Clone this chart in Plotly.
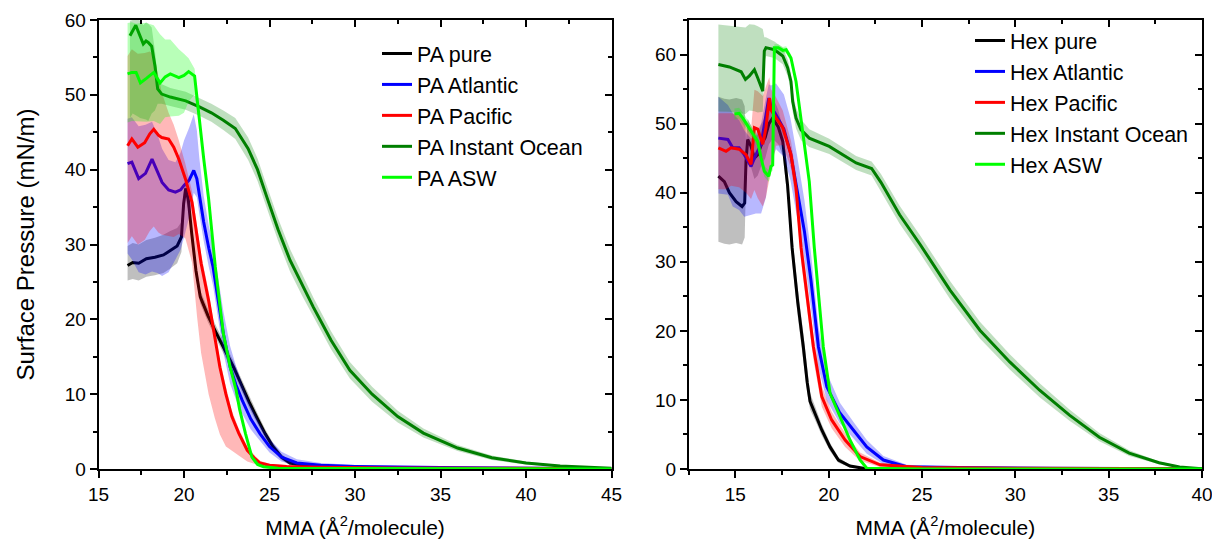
import plotly.graph_objects as go

FONT = "Liberation Sans, Arial, sans-serif"

# ================= Left panel: PA =================
pa_pure_x = [16.7, 17.0, 17.35, 17.8, 18.3, 18.8, 19.2, 19.6, 19.85, 19.98, 20.1, 20.25, 20.45, 20.7, 20.95, 21.4, 21.9, 22.4, 22.9, 23.35, 23.8, 24.3, 24.75, 25.2, 25.7, 26.2, 27.0, 29.0, 32.0, 36.0, 40.0, 45.0]
pa_pure_y = [27.2, 27.6, 27.5, 28.1, 28.3, 28.6, 29.2, 29.8, 31.0, 35.5, 37.5, 36.0, 31.5, 26.5, 23.0, 20.5, 18.1, 15.9, 13.6, 11.3, 9.0, 6.7, 4.7, 3.0, 1.6, 0.8, 0.5, 0.3, 0.15, 0.08, 0.05, 0.02]
pa_pure_elo = [2.0, 2.2, 2.3, 2.4, 2.4, 2.4, 2.4, 2.3, 2.0, 1.5, 1.5, 1.3, 1.2, 1.0, 0.9, 0.9, 0.9, 0.9, 0.8, 0.8, 0.8, 0.7, 0.6, 0.5, 0.4, 0.3, 0.2, 0.1, 0.05, 0.03, 0.02, 0.01]
pa_pure_ehi = [2.6, 2.6, 2.5, 2.5, 2.6, 2.7, 2.6, 2.4, 2.0, 1.5, 1.5, 1.3, 1.2, 1.0, 0.9, 0.9, 0.9, 0.9, 0.8, 0.8, 0.8, 0.7, 0.6, 0.5, 0.4, 0.3, 0.2, 0.1, 0.05, 0.03, 0.02, 0.01]

pa_atl_x = [16.7, 16.95, 17.35, 17.75, 18.13, 18.45, 18.72, 19.1, 19.5, 19.8, 20.0, 20.3, 20.57, 20.75, 20.9, 21.15, 21.45, 21.7, 22.0, 22.3, 22.7, 23.05, 23.4, 23.9, 24.45, 25.0, 25.7, 26.6, 28.0, 30.0, 35.0, 40.0, 45.0]
pa_atl_y = [40.8, 41.0, 38.8, 39.5, 41.4, 39.7, 38.3, 37.3, 37.0, 37.3, 37.9, 38.6, 39.9, 38.8, 36.5, 33.0, 29.5, 27.0, 22.5, 18.1, 13.6, 11.2, 9.2, 6.7, 4.7, 3.0, 1.6, 0.8, 0.5, 0.35, 0.2, 0.12, 0.05]
pa_atl_elo = [12.0, 13.0, 12.5, 13.5, 15.0, 13.5, 12.5, 11.0, 9.0, 8.0, 7.0, 5.0, 3.0, 2.5, 2.5, 2.5, 2.5, 2.5, 2.5, 2.5, 2.2, 2.0, 1.8, 1.4, 1.0, 0.8, 0.6, 0.4, 0.3, 0.2, 0.1, 0.06, 0.03]
pa_atl_ehi = [6.0, 6.0, 7.0, 6.5, 5.0, 5.0, 4.5, 4.0, 4.0, 5.0, 6.0, 7.0, 7.5, 6.5, 5.0, 3.5, 3.0, 3.0, 3.0, 3.0, 2.8, 2.5, 2.2, 1.8, 1.3, 1.0, 0.7, 0.5, 0.3, 0.2, 0.1, 0.06, 0.03]

pa_pac_x = [16.7, 16.95, 17.3, 17.7, 18.0, 18.23, 18.5, 18.7, 19.1, 19.4, 19.7, 20.08, 20.47, 20.76, 21.0, 21.44, 21.8, 22.1, 22.45, 22.8, 23.2, 23.7, 24.1, 24.45, 25.0, 26.0, 28.0, 32.0, 38.0, 45.0]
pa_pac_y = [43.2, 44.1, 43.0, 43.6, 44.8, 45.4, 44.6, 44.3, 44.1, 43.0, 41.4, 38.8, 35.6, 31.4, 27.5, 22.5, 17.8, 13.6, 10.0, 7.0, 4.8, 2.5, 1.5, 0.8, 0.5, 0.35, 0.25, 0.15, 0.1, 0.05]
pa_pac_elo = [13.0, 13.0, 13.0, 13.0, 13.0, 13.0, 13.0, 13.0, 13.0, 12.0, 10.0, 8.0, 8.0, 11.0, 12.0, 12.5, 11.0, 9.0, 7.0, 4.5, 3.0, 1.5, 0.8, 0.4, 0.3, 0.2, 0.15, 0.1, 0.05, 0.03]
pa_pac_ehi = [12.0, 12.0, 12.5, 12.0, 11.0, 10.0, 8.0, 6.0, 3.5, 3.0, 2.5, 2.0, 1.5, 1.2, 1.2, 1.2, 1.2, 1.0, 1.0, 0.8, 0.6, 0.5, 0.4, 0.3, 0.2, 0.15, 0.1, 0.1, 0.05, 0.03]

pa_io_x = [16.84, 17.0, 17.18, 17.3, 17.43, 17.62, 17.78, 17.91, 18.11, 18.3, 18.46, 18.7, 19.2, 20.1, 20.9, 21.6, 22.3, 23.0, 23.75, 24.3, 24.85, 25.5, 26.2, 26.9, 27.57, 28.6, 29.7, 31.0, 32.5, 34.0, 36.0, 38.0, 40.0, 42.0, 45.0]
pa_io_y = [57.9, 58.5, 59.3, 58.6, 57.9, 56.8, 57.2, 57.0, 56.5, 53.9, 50.8, 50.1, 49.7, 49.2, 48.4, 47.6, 46.6, 45.5, 42.8, 40.0, 36.3, 32.0, 27.9, 24.6, 21.6, 17.2, 13.2, 10.0, 7.0, 4.8, 2.8, 1.5, 0.8, 0.4, 0.1]
pa_io_elo = [11.0, 11.0, 12.0, 11.5, 11.0, 10.0, 10.5, 10.5, 9.0, 6.0, 2.0, 1.3, 1.2, 1.2, 1.2, 1.2, 1.3, 1.4, 1.5, 1.5, 1.5, 1.5, 1.5, 1.4, 1.3, 1.2, 1.1, 1.0, 0.8, 0.6, 0.4, 0.3, 0.2, 0.1, 0.05]
pa_io_ehi = [2.0, 1.5, 1.0, 1.5, 2.0, 2.5, 2.5, 2.5, 2.5, 2.0, 1.5, 1.3, 1.2, 1.2, 1.2, 1.2, 1.3, 1.4, 1.5, 1.5, 1.5, 1.5, 1.5, 1.4, 1.3, 1.2, 1.1, 1.0, 0.8, 0.6, 0.4, 0.3, 0.2, 0.1, 0.05]

pa_asw_x = [16.7, 16.95, 17.2, 17.45, 17.8, 18.23, 18.6, 18.9, 19.2, 19.7, 20.0, 20.27, 20.62, 20.86, 21.15, 21.44, 21.83, 22.3, 22.7, 23.05, 23.25, 23.6, 23.97, 24.3, 24.65, 25.5, 30.0, 35.0, 40.0, 45.0]
pa_asw_y = [52.8, 53.0, 53.0, 51.6, 52.2, 53.0, 51.6, 52.4, 52.8, 52.3, 52.6, 53.1, 52.5, 47.2, 41.5, 36.1, 27.0, 18.1, 13.6, 10.5, 8.0, 4.7, 1.6, 0.6, 0.3, 0.1, 0.05, 0.03, 0.02, 0.01]
pa_asw_elo = [6.5, 6.5, 6.5, 5.2, 5.8, 6.5, 5.5, 5.4, 5.7, 5.1, 5.0, 4.0, 2.5, 0.8, 0.8, 0.8, 0.8, 0.7, 0.6, 0.5, 0.5, 0.4, 0.3, 0.2, 0.1, 0.05, 0.03, 0.02, 0.02, 0.01]
pa_asw_ehi = [6.8, 6.7, 6.5, 8.0, 7.4, 6.3, 6.5, 5.0, 4.6, 3.8, 2.9, 1.8, 1.0, 0.8, 0.8, 0.8, 0.8, 0.7, 0.6, 0.5, 0.5, 0.4, 0.3, 0.2, 0.1, 0.05, 0.03, 0.02, 0.02, 0.01]

# ================= Right panel: Hex =================
hx_pure_x = [14.09, 14.41, 14.68, 15.04, 15.36, 15.5, 15.57, 15.66, 15.84, 16.02, 16.2, 16.4, 16.6, 16.8, 17.0, 17.3, 17.54, 17.8, 18.04, 18.34, 18.64, 18.85, 19.0, 19.27, 19.63, 20.07, 20.52, 21.14, 21.86, 23.0, 26.0, 30.0, 35.0, 40.0]
hx_pure_y = [42.4, 41.6, 40.0, 38.7, 38.0, 38.5, 44.5, 47.7, 46.7, 45.0, 45.5, 47.0, 48.0, 50.0, 50.8, 49.5, 47.4, 41.0, 32.0, 24.2, 17.7, 12.5, 9.8, 8.1, 5.65, 3.2, 1.3, 0.43, 0.1, 0.02, 0.0, 0.0, 0.0, 0.0]
hx_pure_elo = [9.5, 9.0, 7.5, 6.0, 5.5, 5.0, 3.0, 3.0, 3.0, 3.0, 3.0, 3.0, 3.0, 3.0, 3.0, 2.5, 2.0, 2.0, 2.0, 2.0, 2.0, 1.5, 1.2, 1.0, 0.8, 0.6, 0.4, 0.2, 0.1, 0.02, 0.0, 0.0, 0.0, 0.0]
hx_pure_ehi = [11.5, 12.0, 13.5, 15.0, 15.5, 14.0, 3.0, 3.0, 3.0, 3.0, 3.0, 3.0, 3.0, 3.0, 3.0, 2.5, 2.0, 2.0, 2.0, 2.0, 2.0, 1.5, 1.2, 1.0, 0.8, 0.6, 0.4, 0.2, 0.1, 0.02, 0.0, 0.0, 0.0, 0.0]

hx_atl_x = [14.09, 14.6, 14.86, 15.2, 15.48, 15.84, 16.1, 16.38, 16.64, 16.79, 16.9, 17.18, 17.6, 17.95, 18.3, 18.7, 19.05, 19.45, 19.9, 20.6, 21.32, 22.04, 22.93, 24.18, 27.0, 32.0, 40.0]
hx_atl_y = [47.9, 47.7, 46.5, 46.5, 45.5, 43.8, 45.5, 47.0, 51.3, 53.7, 52.5, 51.3, 49.2, 45.8, 40.5, 34.4, 27.3, 17.7, 11.9, 8.1, 5.65, 3.2, 1.3, 0.33, 0.2, 0.1, 0.05]
hx_atl_elo = [8.0, 8.0, 8.5, 9.0, 9.0, 7.0, 8.5, 10.0, 12.0, 11.0, 8.0, 5.0, 4.0, 4.0, 4.0, 4.0, 4.0, 3.0, 2.0, 1.5, 1.2, 1.0, 0.6, 0.2, 0.1, 0.05, 0.03]
hx_atl_ehi = [6.0, 5.0, 5.0, 4.0, 3.5, 4.0, 3.0, 3.0, 2.5, 2.0, 3.0, 4.5, 5.0, 5.0, 5.0, 4.5, 4.0, 3.0, 2.0, 1.5, 1.2, 1.0, 0.6, 0.3, 0.1, 0.05, 0.03]

hx_pac_x = [14.09, 14.5, 14.77, 15.2, 15.57, 15.84, 16.02, 16.2, 16.47, 16.64, 16.82, 16.9, 17.18, 17.54, 17.98, 18.25, 18.52, 18.8, 19.18, 19.63, 20.16, 20.88, 21.68, 22.75, 25.0, 30.0, 40.0]
hx_pac_y = [46.5, 46.0, 46.5, 46.3, 45.5, 44.1, 49.4, 49.2, 47.0, 49.4, 53.7, 52.0, 50.8, 49.4, 45.5, 40.7, 32.0, 26.0, 17.7, 10.5, 7.1, 4.2, 1.8, 0.6, 0.2, 0.1, 0.05]
hx_pac_elo = [6.0, 5.5, 5.5, 5.5, 5.5, 5.0, 9.0, 10.0, 9.0, 10.0, 12.0, 9.0, 4.0, 2.5, 2.0, 2.0, 2.0, 2.0, 1.8, 1.5, 1.2, 1.0, 0.6, 0.3, 0.1, 0.05, 0.03]
hx_pac_ehi = [5.0, 5.5, 5.0, 5.0, 5.0, 5.0, 5.5, 5.5, 7.0, 6.0, 3.0, 3.0, 3.0, 2.5, 2.0, 2.0, 2.0, 2.0, 1.8, 1.5, 1.2, 1.0, 0.6, 0.3, 0.1, 0.05, 0.03]

hx_io_x = [14.09, 14.68, 15.31, 15.54, 15.75, 16.02, 16.2, 16.47, 16.55, 16.64, 17.09, 17.54, 17.8, 17.98, 18.07, 18.25, 18.52, 18.96, 20.03, 21.47, 22.3, 22.8, 23.8, 24.9, 26.5, 28.1, 29.7, 31.3, 32.9, 34.5, 36.1, 37.7, 38.8, 40.0]
hx_io_y = [58.55, 58.2, 57.5, 56.4, 56.9, 57.8, 56.6, 54.7, 60.5, 61.0, 60.7, 59.8, 58.1, 56.1, 53.2, 50.8, 49.1, 47.9, 46.7, 44.3, 43.5, 41.5, 36.8, 32.5, 25.9, 20.1, 15.5, 11.4, 7.8, 4.6, 2.3, 0.9, 0.3, 0.05]
hx_io_elo = [6.8, 6.5, 6.0, 5.0, 5.0, 6.0, 5.0, 3.0, 1.5, 1.2, 1.2, 1.2, 1.2, 1.2, 1.5, 1.5, 1.5, 1.3, 1.1, 1.0, 1.0, 1.2, 1.3, 1.3, 1.3, 1.2, 1.1, 1.0, 0.8, 0.6, 0.4, 0.2, 0.1, 0.02]
hx_io_ehi = [5.8, 6.0, 6.5, 7.5, 7.5, 6.5, 7.5, 9.0, 2.0, 1.5, 1.2, 1.2, 1.2, 1.2, 1.5, 1.5, 1.5, 1.3, 1.1, 1.0, 1.0, 1.2, 1.3, 1.3, 1.3, 1.2, 1.1, 1.0, 0.8, 0.6, 0.4, 0.2, 0.1, 0.02]

hx_asw_x = [14.95, 15.2, 15.4, 15.93, 16.2, 16.38, 16.55, 16.79, 16.91, 17.0, 17.09, 17.3, 17.54, 17.72, 17.98, 18.25, 18.52, 18.7, 18.96, 19.23, 19.45, 19.71, 20.07, 20.52, 21.14, 21.68, 22.04, 25.0, 30.0, 35.0, 40.0]
hx_asw_y = [51.4, 51.5, 50.8, 48.6, 47.4, 45.0, 43.1, 42.4, 43.8, 44.0, 61.0, 61.0, 60.6, 60.7, 59.5, 56.1, 50.3, 46.5, 41.6, 32.0, 25.5, 17.7, 11.0, 8.1, 4.2, 1.3, 0.1, 0.0, 0.0, 0.0, 0.0]
hx_asw_elo = [0.8, 0.8, 0.8, 0.8, 0.8, 0.8, 0.8, 0.8, 0.8, 0.8, 0.5, 0.5, 0.5, 0.5, 0.5, 0.5, 0.5, 0.5, 0.5, 0.5, 0.5, 0.5, 0.4, 0.3, 0.2, 0.1, 0.05, 0.0, 0.0, 0.0, 0.0]
hx_asw_ehi = [0.8, 0.8, 0.8, 0.8, 0.8, 0.8, 0.8, 0.8, 0.8, 0.8, 0.5, 0.5, 0.5, 0.5, 0.5, 0.5, 0.5, 0.5, 0.5, 0.5, 0.5, 0.5, 0.4, 0.3, 0.2, 0.1, 0.05, 0.0, 0.0, 0.0, 0.0]

pa_names = ["PA pure", "PA Atlantic", "PA Pacific", "PA Instant Ocean", "PA ASW"]
hx_names = ["Hex pure", "Hex Atlantic", "Hex Pacific", "Hex Instant Ocean", "Hex ASW"]

line_colors = ["#000000", "#0000ff", "#ff0000", "#007f00", "#00ff00"]
band_colors = ["rgba(0,0,0,0.25)", "rgba(0,0,255,0.28)", "rgba(255,0,0,0.28)",
               "rgba(0,128,0,0.25)", "rgba(0,255,0,0.28)"]

pa_series = [
    (pa_pure_x, pa_pure_y, pa_pure_elo, pa_pure_ehi),
    (pa_atl_x, pa_atl_y, pa_atl_elo, pa_atl_ehi),
    (pa_pac_x, pa_pac_y, pa_pac_elo, pa_pac_ehi),
    (pa_io_x, pa_io_y, pa_io_elo, pa_io_ehi),
    (pa_asw_x, pa_asw_y, pa_asw_elo, pa_asw_ehi),
]
hx_series = [
    (hx_pure_x, hx_pure_y, hx_pure_elo, hx_pure_ehi),
    (hx_atl_x, hx_atl_y, hx_atl_elo, hx_atl_ehi),
    (hx_pac_x, hx_pac_y, hx_pac_elo, hx_pac_ehi),
    (hx_io_x, hx_io_y, hx_io_elo, hx_io_ehi),
    (hx_asw_x, hx_asw_y, hx_asw_elo, hx_asw_ehi),
]

fig = go.Figure()


def add_panel(series, names, xa, ya, legend_name):
    for (xs, ys, elo, ehi), name, lc, bc in zip(series, names, line_colors, band_colors):
        lo = [max(0.0, y - e) for y, e in zip(ys, elo)]
        hi = [y + e for y, e in zip(ys, ehi)]
        fig.add_trace(go.Scatter(
            x=list(xs) + list(xs[::-1]), y=hi + lo[::-1],
            fill="toself", fillcolor=bc, line=dict(width=0),
            mode="lines", showlegend=False, hoverinfo="skip",
            xaxis=xa, yaxis=ya))
        fig.add_trace(go.Scatter(
            x=xs, y=ys, mode="lines", name=name,
            line=dict(color=lc, width=3),
            xaxis=xa, yaxis=ya, legend=legend_name))


add_panel(pa_series, pa_names, "x", "y", "legend")
add_panel(hx_series, hx_names, "x2", "y2", "legend2")

# dummy traces for the inner-tick overlay axes
fig.add_trace(go.Scatter(x=[None], y=[None], xaxis="x3", yaxis="y3", showlegend=False, hoverinfo="skip"))
fig.add_trace(go.Scatter(x=[None], y=[None], xaxis="x4", yaxis="y4", showlegend=False, hoverinfo="skip"))

W, H = 1212, 548
ydom = [1 - 469 / H, 1 - 20 / H]
xdom1 = [98.5 / W, 611.5 / W]
xdom2 = [688.7 / W, 1202 / W]

tickfont = dict(family=FONT, size=19, color="black")


def main_axis(rng, dtick, mdtick, dom, anchor, title=None, tsize=21, standoff=10):
    d = dict(range=rng, dtick=dtick, tick0=0, domain=dom, anchor=anchor,
             showline=True, linecolor="black", linewidth=1.5, mirror=True,
             ticks="outside", ticklen=7, tickwidth=1.5, tickcolor="black",
             minor=dict(ticks="outside", dtick=mdtick, tick0=0, ticklen=4, tickwidth=1.5, tickcolor="black"),
             showgrid=False, zeroline=False, tickfont=tickfont, automargin=False,
             ticklabeloverflow="allow")
    if title:
        d["title"] = dict(text=title, font=dict(family=FONT, size=tsize, color="black"), standoff=standoff)
    return d


def overlay_axis(rng, dtick, mdtick, over, side, anchor):
    return dict(range=rng, dtick=dtick, tick0=0, overlaying=over, side=side, anchor=anchor,
                showline=False, ticks="inside", ticklen=7, tickwidth=1.5, tickcolor="black",
                minor=dict(ticks="inside", dtick=mdtick, tick0=0, ticklen=4, tickwidth=1.5, tickcolor="black"),
                showticklabels=False, showgrid=False, zeroline=False)


xtitle = "MMA (Å<sup>2</sup>/molecule)"

fig.update_layout(
    width=W, height=H,
    margin=dict(l=0, r=0, t=0, b=0),
    paper_bgcolor="white", plot_bgcolor="white",
    font=dict(family=FONT, color="black"),
    xaxis=main_axis([15, 45], 5, 2.5, xdom1, "y", xtitle, 21, 17),
    yaxis=main_axis([0, 60], 10, 5, ydom, "x", "Surface Pressure (mN/m)", 24, 23),
    xaxis2=main_axis([12.5, 40], 5, 2.5, xdom2, "y2", xtitle, 21, 17),
    yaxis2=main_axis([0, 65], 10, 5, ydom, "x2"),
    xaxis3=overlay_axis([15, 45], 5, 2.5, "x", "top", "y3"),
    yaxis3=overlay_axis([0, 60], 10, 5, "y", "right", "x3"),
    xaxis4=overlay_axis([12.5, 40], 5, 2.5, "x2", "top", "y4"),
    yaxis4=overlay_axis([0, 65], 10, 5, "y2", "right", "x4"),
    legend=dict(x=377 / W, y=1 - 33 / H, xanchor="left", yanchor="top",
                font=dict(family=FONT, size=21.5, color="black"),
                bgcolor="rgba(0,0,0,0)", borderwidth=0, tracegroupgap=0),
    legend2=dict(x=970 / W, y=1 - 20 / H, xanchor="left", yanchor="top",
                 font=dict(family=FONT, size=21.5, color="black"),
                 bgcolor="rgba(0,0,0,0)", borderwidth=0, tracegroupgap=0),
    showlegend=True,
)

fig.write_html("out.html")
